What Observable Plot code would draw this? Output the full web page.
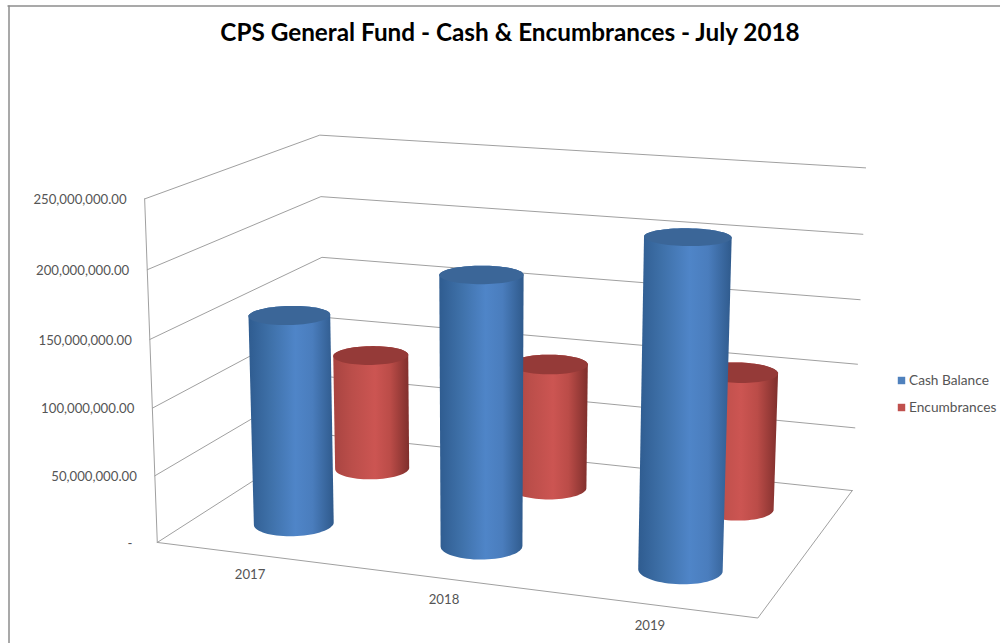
<!DOCTYPE html>
<html>
<head>
<meta charset="utf-8">
<style>
  html, body { margin: 0; padding: 0; background: #fff; }
  svg { display: block; }
</style>
<script src="https://cdn.jsdelivr.net/npm/d3@7"></script>
<script src="https://cdn.jsdelivr.net/npm/@observablehq/plot@0.6"></script>
</head>
<body>
<div id="chart"></div>
<script>
// Chart values
const chartTitle = "CPS General Fund - Cash & Encumbrances - July 2018";
const years = ["2017", "2018", "2019"];
const cashBalance = [157e6, 198e6, 235e6];
const encumbrances = [92e6, 98e6, 105e6];
const valueTicks = [0, 50e6, 100e6, 150e6, 200e6, 250e6];
const valueMax = 250e6;
const seriesNames = ["Cash Balance", "Encumbrances"];

// Camera calibration: [u (along years), v (depth), h (value share), screen x, screen y]
const calibration = [
  [0, 0, 0, 156.5, 543], [0, 0, .2, 155, 476], [0, 0, .4, 152, 407],
  [0, 0, .6, 150, 339], [0, 0, .8, 146.5, 269], [0, 0, 1, 143.5, 198],
  [0, 1, 0, 324, 432], [0, 1, .2, 323, 376], [0, 1, .4, 323, 318],
  [0, 1, .6, 321.5, 257], [0, 1, .8, 320, 197], [0, 1, 1, 320, 134],
  [1, 1, 0, 852, 490], [1, 1, .2, 855, 428], [1, 1, .4, 857, 364],
  [1, 1, .6, 859.5, 299], [1, 1, .8, 862, 234], [1, 1, 1, 865, 167],
  [1, 0, 0, 757, 617]
];

// Least-squares fit of a projective camera (11 unknowns) through the calibration points.
function fitCamera(points) {
  const n = 11;
  const A = Array.from({length: n}, () => new Array(n + 1).fill(0));
  const addRow = (row, rhs) => {
    for (let i = 0; i < n; i++) {
      for (let j = 0; j < n; j++) A[i][j] += row[i] * row[j];
      A[i][n] += row[i] * rhs;
    }
  };
  for (const [u, v, h, x, y] of points) {
    addRow([u, v, h, 1, 0, 0, 0, 0, -x * u, -x * v, -x * h], x);
    addRow([0, 0, 0, 0, u, v, h, 1, -y * u, -y * v, -y * h], y);
  }
  for (let c = 0; c < n; c++) {
    let pivot = c;
    for (let r = c + 1; r < n; r++) if (Math.abs(A[r][c]) > Math.abs(A[pivot][c])) pivot = r;
    [A[c], A[pivot]] = [A[pivot], A[c]];
    for (let r = 0; r < n; r++) {
      if (r === c) continue;
      const f = A[r][c] / A[c][c];
      for (let k = c; k <= n; k++) A[r][k] -= f * A[c][k];
    }
  }
  return A.map((row, i) => row[n] / row[i]);
}
const cam = fitCamera(calibration);
const project = (u, v, h) => {
  const w = cam[8] * u + cam[9] * v + cam[10] * h + 1;
  return [
    (cam[0] * u + cam[1] * v + cam[2] * h + cam[3]) / w,
    (cam[4] * u + cam[5] * v + cam[6] * h + cam[7]) / w
  ];
};
const share = (value) => value / valueMax;

// Cylinder footprint in floor units, and the slot of each series along the depth axis.
const radiusU = 0.066, radiusV = 0.101;
const slotU = (i) => (i + 0.5) / years.length;
const slotV = (s) => (s + 0.5) / seriesNames.length;
const circle = (u, v, h) => d3.range(0, 360, 5).map((deg) => {
  const t = deg * Math.PI / 180;
  return project(u + radiusU * Math.cos(t), v + radiusV * Math.sin(t), h);
});

const palette = [
  {id: "cashBody", swatch: "#4f81bd", cap: "#3b6698",
   stops: ["#2f5c90", "#3e70a8", "#4f85c8", "#4a7dbd", "#2f5a8c"]},
  {id: "encBody", swatch: "#c0504d", cap: "#953a38",
   stops: ["#a84441", "#bb4e4a", "#cc5552", "#bb4c48", "#7f2f2c"]}
];

// Line-shaped polygon mark: an implicitly closed, filled path.
const polygon = (pts, fill) =>
  Plot.line(pts, {x: (d) => d[0], y: (d) => d[1], fill, stroke: "none"});

function cylinder(i, s, value) {
  const u = slotU(i), v = slotV(s), c = palette[s];
  const bottom = circle(u, v, 0), top = circle(u, v, share(value));
  return [
    polygon(d3.polygonHull(bottom.concat(top)), `url(#${c.id})`),
    polygon(top, c.cap)
  ];
}

const gradients = () => {
  const defs = d3.create("svg:defs");
  for (const c of palette) {
    const g = defs.append("linearGradient").attr("id", c.id);
    [0, 0.25, 0.55, 0.75, 1].forEach((o, k) =>
      g.append("stop").attr("offset", o).attr("stop-color", c.stops[k]));
  }
  return defs.node();
};

const gridColor = "#a0a0a0";
const frameLevels = valueTicks.map((t) =>
  [project(0, 0, share(t)), project(0, 1, share(t)), project(1, 1, share(t))]);
const floorOutline = [project(0, 0, 0), project(1, 0, 0), project(1, 1, 0)];
const sideEdge = [project(0, 0, 0), project(0, 0, 1)];

const tickRows = valueTicks.filter((t) => t > 0).map((t) => ({
  p: project(0, 0, share(t)), label: d3.format(",.2f")(t)
}));
const yearRows = years.map((y, i) => ({p: project(slotU(i), 0, 0), label: y}));
const zeroPoint = project(0, 0, 0);

const legendX = 901, legendTextX = 908.5, legendY = [380, 407];
const ink = "#555555", font = "Lato, 'Open Sans', sans-serif";

const plot = Plot.plot({
  width: 1000,
  height: 643,
  margin: 0,
  style: {background: "#fff", fontFamily: font},
  x: {domain: [0, 1000], range: [0, 1000], axis: null},
  y: {domain: [0, 643], range: [0, 643], axis: null},
  marks: [
    gradients,
    // outer chart border
    Plot.ruleY([5.5], {x1: 7.5, x2: 1000, stroke: "#8c8c8c", strokeWidth: 1.5}),
    Plot.ruleX([8.5], {y1: 5.5, y2: 643, stroke: "#8c8c8c", strokeWidth: 1.5}),
    // walls and floor
    ...frameLevels.map((pts) => Plot.line(pts, {x: (d) => d[0], y: (d) => d[1], stroke: gridColor, strokeWidth: 1})),
    Plot.line(floorOutline, {x: (d) => d[0], y: (d) => d[1], stroke: gridColor, strokeWidth: 1}),
    Plot.line(sideEdge, {x: (d) => d[0], y: (d) => d[1], stroke: gridColor, strokeWidth: 1}),
    // cylinders, back row first
    ...encumbrances.flatMap((v, i) => cylinder(i, 1, v)),
    ...cashBalance.flatMap((v, i) => cylinder(i, 0, v)),
    // value and year labels
    Plot.text(tickRows, {x: (d) => d.p[0], y: (d) => d.p[1], text: "label", dx: -18, dy: 1, textAnchor: "end", fontSize: 13.2, fill: ink}),
    Plot.text(["-"], {x: zeroPoint[0], y: zeroPoint[1], dx: -25, dy: 1, textAnchor: "end", fontSize: 13.2, fill: ink}),
    Plot.text(yearRows, {x: (d) => d.p[0], y: (d) => d.p[1], text: "label", dx: 0, dy: 21, fontSize: 13.2, fill: ink}),
    // title
    Plot.text([chartTitle], {x: 509.5, y: 33, fontSize: 24.3, fontWeight: 700, fill: "#000"}),
    // legend
    Plot.dot(seriesNames, {x: legendX, y: (d, i) => legendY[i], symbol: "square", r: 4.2, fill: (d, i) => palette[i].swatch, stroke: "none"}),
    Plot.text(seriesNames, {x: legendTextX, y: (d, i) => legendY[i], textAnchor: "start", fontSize: 13.7, fill: ink})
  ]
});
document.getElementById("chart").appendChild(plot);
</script>
</body>
</html>
